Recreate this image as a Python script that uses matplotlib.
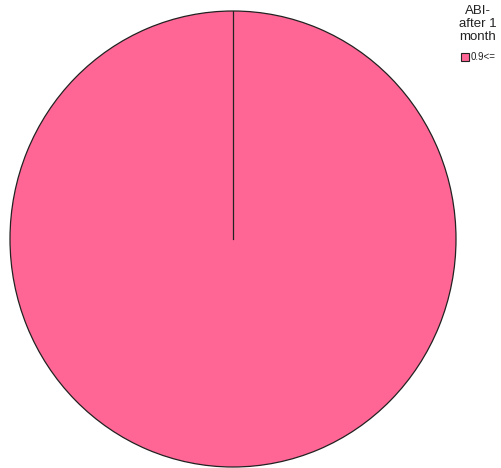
import matplotlib
matplotlib.use("Agg")
import matplotlib.pyplot as plt
import numpy as np
from matplotlib.patches import Rectangle

plt.rcParams['font.family'] = ['Liberation Sans', 'DejaVu Sans']

categories = ["0.9<="]
values = [100.0]
colors = ["#FF6695"]
legend_title = "ABI-\nafter 1\nmonth"

fig = plt.figure(figsize=(5.01, 4.68), dpi=100)
W, H = 501, 468
ax = fig.add_axes([10 / W, 1 / H, 446 / W, 456 / H])
wedges, _ = ax.pie(values, colors=colors, startangle=90, counterclock=False,
                   radius=1.0, wedgeprops=dict(edgecolor="#222222", linewidth=0.9))
ax.set_aspect("auto")
ax.set_xlim(-1.0, 1.0)
ax.set_ylim(-1.0, 1.0)
ax.axis("off")

# slice boundary (radial edge at start angle)
total = sum(values)
ang = 90.0
for v in values:
    a = np.deg2rad(ang)
    ax.plot([0, np.cos(a)], [0, np.sin(a)], color="#222222", lw=0.9)
    ang -= 360.0 * v / total

fig.text(478 / W, 1 - 5 / H, legend_title, ha="center", va="top",
         fontsize=9.5, color="#222222", linespacing=1.12)
for i, (c, lab) in enumerate(zip(colors, categories)):
    y = 57 + i * 14
    fig.patches.append(Rectangle((461 / W, 1 - (y + 4) / H), 8 / W, 8 / H,
                                 transform=fig.transFigure, facecolor=c,
                                 edgecolor="#222222", linewidth=0.8))
    fig.text(471 / W, 1 - (y + 0.5) / H, lab, ha="left", va="center",
             fontsize=7, color="#222222")

fig.savefig("out.png", dpi=100)
